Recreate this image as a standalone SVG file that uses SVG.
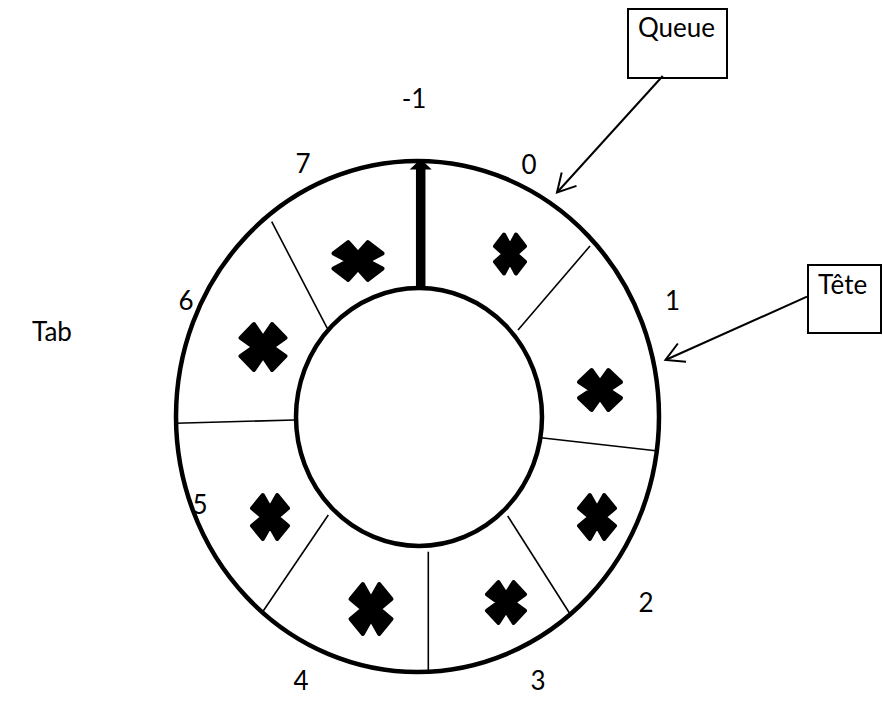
<svg xmlns="http://www.w3.org/2000/svg" width="883" height="722" viewBox="0 0 883 722">
  <style>
    .lbl { font-family: "Lato", "Open Sans", sans-serif; font-size: 26px; fill: #000; }
    .mid { text-anchor: middle; }
    .ring { fill: none; stroke: #000; stroke-width: 4.5; }
    .div { stroke: #000; stroke-width: 1.6; fill: none; }
    .box { fill: #fff; stroke: #000; stroke-width: 2; }
    .conn { stroke: #000; stroke-width: 2; fill: none; }
    .cross { fill: #000; stroke: #000; stroke-width: 4; stroke-linejoin: round; }
  </style>
  <defs>
    <!-- heavy multiplication cross in a [-1,1] box, stretched per slot -->
    <path id="xmark" vector-effect="non-scaling-stroke" d="M0.4,-1 L1,-0.4 L0.42,0 L1,0.4 L0.4,1 L0,0.42 L-0.4,1 L-1,0.4 L-0.42,0 L-1,-0.4 L-0.4,-1 L0,-0.42 Z"/>
    <marker id="open" markerUnits="userSpaceOnUse" markerWidth="30" markerHeight="30" viewBox="-22 -15 26 30" refX="0" refY="0" orient="auto">
      <path d="M-18,-10 L0,0 L-18,10" fill="none" stroke="#000" stroke-width="2"/>
    </marker>
  </defs>

  <!-- circular buffer -->
  <g id="ring">
    <ellipse class="ring" cx="417.5" cy="416.5" rx="241.5" ry="255.5"/>
    <ellipse class="ring" cx="419" cy="417" rx="123" ry="129"/>
    <line class="div" x1="590" y1="246" x2="518" y2="330"/>
    <line class="div" x1="541" y1="437.7" x2="658" y2="451"/>
    <line class="div" x1="507.7" y1="516" x2="570.7" y2="615"/>
    <line class="div" x1="428.3" y1="551.7" x2="428.3" y2="671.7"/>
    <line class="div" x1="328.3" y1="515" x2="262.7" y2="611.7"/>
    <line class="div" x1="176" y1="423.3" x2="294" y2="420"/>
    <line class="div" x1="271.7" y1="221.7" x2="327.3" y2="328.3"/>
  </g>

  <!-- occupied slots -->
  <g id="slots">
    <use href="#xmark" class="cross" transform="translate(358,261) scale(24.5,19)"/>
    <use href="#xmark" class="cross" transform="translate(510,254) scale(15,19.5)"/>
    <use href="#xmark" class="cross" transform="translate(263,347) scale(22.5,23)"/>
    <use href="#xmark" class="cross" transform="translate(600,390) scale(21,20)"/>
    <use href="#xmark" class="cross" transform="translate(597,517) scale(18,22)"/>
    <use href="#xmark" class="cross" transform="translate(506,602.5) scale(19,20.5)"/>
    <use href="#xmark" class="cross" transform="translate(371,609) scale(20.5,25)"/>
    <use href="#xmark" class="cross" transform="translate(270,517) scale(18,22)"/>
  </g>

  <!-- slot indices -->
  <g id="indices">
    <text class="lbl mid" x="414" y="108">-1</text>
    <text class="lbl mid" x="303" y="173">7</text>
    <text class="lbl mid" x="529" y="174">0</text>
    <text class="lbl mid" x="186" y="310">6</text>
    <text class="lbl mid" x="672.5" y="310">1</text>
    <text class="lbl mid" x="200" y="514">5</text>
    <text class="lbl mid" x="646" y="612">2</text>
    <text class="lbl mid" x="301" y="690">4</text>
    <text class="lbl mid" x="538" y="690">3</text>
  </g>

  <g id="tab">
    <text class="lbl" x="32" y="341">Tab</text>
  </g>

  <g id="queue">
    <rect class="box" x="628" y="9" width="99" height="69"/>
    <text class="lbl" x="638" y="37">Queue</text>
  </g>

  <g id="tete">
    <rect class="box" x="808" y="265" width="73" height="68"/>
    <text class="lbl" x="818" y="294">Tête</text>
  </g>

  <g id="connectors">
    <line class="conn" x1="662.7" y1="76" x2="557" y2="192.5" marker-end="url(#open)"/>
    <line class="conn" x1="807" y1="296.7" x2="665.5" y2="360" marker-end="url(#open)"/>
    <!-- pointer from the hub to slot -1 -->
    <line x1="420.7" y1="289" x2="420.7" y2="168" stroke="#000" stroke-width="9.5"/>
    <polygon points="409.7,169.5 431.7,169.5 420.7,159" fill="#000"/>
  </g>
</svg>
